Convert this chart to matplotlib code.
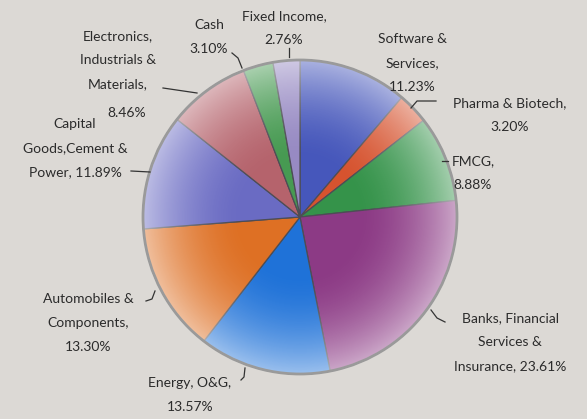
import numpy as np
import matplotlib
matplotlib.use("Agg")
import matplotlib.pyplot as plt
from matplotlib.patches import Circle

# 数据：按顺时针顺序（从12点钟方向开始）
categories = ["Software & Services", "Pharma & Biotech", "FMCG",
              "Banks, Financial Services & Insurance", "Energy, O&G",
              "Automobiles & Components", "Capital Goods,Cement & Power",
              "Electronics, Industrials & Materials", "Cash", "Fixed Income"]
values = [11.23, 3.20, 8.88, 23.61, 13.57, 13.30, 11.89, 8.46, 3.10, 2.76]
colors = ["#4657bb", "#d6532f", "#35934a", "#8c3a85", "#1f72d8",
          "#de7024", "#6a6bc3", "#b5636c", "#479a52", "#978ac3"]

# 标签文本（原图中的换行方式）
label_text = ["Software &\nServices,\n{}", "Pharma & Biotech,\n{}", "FMCG,\n{}",
              "Banks, Financial\nServices &\nInsurance, {}", "Energy, O&G,\n{}",
              "Automobiles &\nComponents,\n{}", "Capital\nGoods,Cement &\nPower, {}",
              "Electronics,\nIndustrials &\nMaterials,", "Cash\n{}", "Fixed Income,\n{}"]

W, H = 587, 419
cx, cy, R = 300, H - 217, 157

fig = plt.figure(figsize=(W / 100, H / 100), dpi=100)
fig.patch.set_facecolor("#dcd9d5")
ax = fig.add_axes([0, 0, 1, 1])
ax.set_facecolor("#dcd9d5")

wedges, _ = ax.pie(values, colors=colors, startangle=90, counterclock=False,
                   center=(cx, cy), radius=R,
                   wedgeprops=dict(edgecolor="#4d4d55", linewidth=0.9))

# 径向渐变（模拟原图的光泽效果）
n = 300
gx, gy = np.meshgrid(np.linspace(-1, 1, n), np.linspace(-1, 1, n))
r = np.sqrt(gx ** 2 + gy ** 2)
alpha = np.clip((r - 0.35) / 0.65, 0, 1) ** 1.8 * 0.55
overlay = np.zeros((n, n, 4))
overlay[..., :3] = 1.0
overlay[..., 3] = alpha
im = ax.imshow(overlay, extent=(cx - R, cx + R, cy - R, cy + R), origin="lower",
               zorder=3, interpolation="bilinear")
im.set_clip_path(Circle((cx, cy), R, transform=ax.transData))
ax.add_patch(Circle((cx, cy), R, fill=False, edgecolor="#9a9a9a", linewidth=2.0, zorder=4))

# 标签位置（图像像素坐标，中心）
label_pos = [(412, 63), (510, 115), (473, 173), (510, 342), (190, 395),
             (88, 323), (75, 148), (118, 60), (209, 37), (284, 28)]

text_kw = dict(fontsize=10, color="#2b2b2b", family=["Lato", "DejaVu Sans"],
               va="center", ha="center", linespacing=2.2, zorder=5)
for tmpl, v, (x, y) in zip(label_text, values, label_pos):
    ax.text(x, H - y, tmpl.format(f"{v:.2f}%"), **text_kw)
# Electronics 的百分比单独放置
ax.text(127, H - 113, f"{values[7]:.2f}%", **text_kw)

# 引导线
leaders = [
    [(436, 101), (417, 101), (411, 108)],
    [(442, 161), (448, 161)],
    [(445, 322), (437, 318), (431, 310)],
    [(241, 380), (244, 377), (245, 368)],
    [(146, 301), (152, 299), (155, 291)],
    [(131, 171), (150, 172)],
    [(163, 88), (197, 93)],
    [(232, 53), (238, 58), (242, 68)],
    [(289, 48), (289, 57)],
]
for pts in leaders:
    xs = [p[0] for p in pts]
    ys = [H - p[1] for p in pts]
    ax.plot(xs, ys, color="#333333", linewidth=0.9, zorder=5)

ax.set_xlim(0, W)
ax.set_ylim(0, H)
ax.set_aspect("auto")
ax.axis("off")

fig.savefig("out.png", dpi=100, facecolor=fig.get_facecolor())
